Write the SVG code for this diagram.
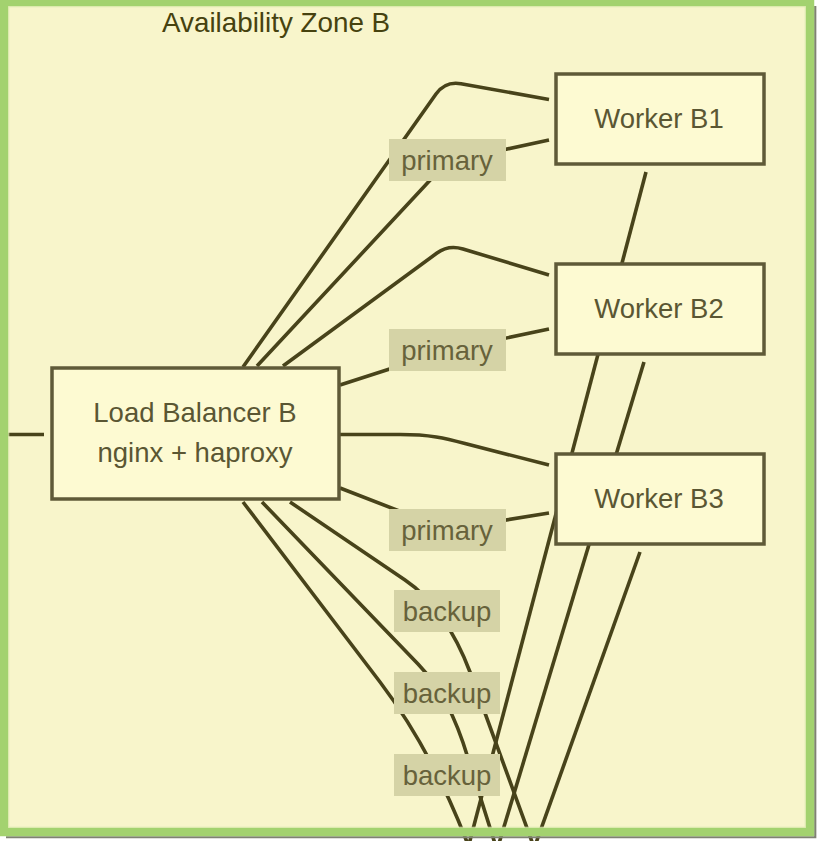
<svg xmlns="http://www.w3.org/2000/svg" width="818" height="841" viewBox="0 0 818 841">
<style>
  .edge{fill:none;stroke:#48431a;stroke-width:3.6;stroke-linejoin:round;stroke-linecap:butt}
  .node rect{fill:#fdfad2;stroke:#5f5a38;stroke-width:3.5}
  .node text{font-family:"Liberation Sans",Arial,sans-serif;font-size:27.5px;fill:#5a5633;text-anchor:middle}
  .lbl rect{fill:#d5d3a6}
  .lbl text{font-family:"Liberation Sans",Arial,sans-serif;font-size:27.5px;fill:#67623b;text-anchor:middle}
  .title{font-family:"Liberation Sans",Arial,sans-serif;font-size:27.8px;fill:#46420f}
</style>
<g id="zone-bg">
  <rect x="4" y="2" width="806" height="830" fill="#f8f5cb"/>
</g>
<g id="connectors">
  <path class="edge" d="M8,434.5 L44,434.5"/>
  <path class="edge" d="M243,367 L436,94 Q445.5,81 461,83.8 L549,99.5"/>
  <path class="edge" d="M257,366 L447,162 L549,140"/>
  <path class="edge" d="M283,366 L437,253 Q448.7,244.5 463,249 L549,275"/>
  <path class="edge" d="M340,385 L447,350.5 L549,329"/>
  <path class="edge" d="M340,434.5 L400,434.5 C430,434.5 445,438 465,443.5 L549,465"/>
  <path class="edge" d="M340,488 L447,529.5 L549,513"/>
  <path class="edge" d="M243,502 L380,682 C405,715 440,770 470,850"/>
  <path class="edge" d="M262,502 L418,664 C440,687 455,715 468,758 L497,850"/>
  <path class="edge" d="M290,502 L405,580 C432,598 455,632 470,672 L535,850"/>
  <path class="edge" d="M646,172 L467.5,850"/>
  <path class="edge" d="M644,362 L497,850"/>
  <path class="edge" d="M640,552 L533.5,850"/>
</g>
<g id="edge-labels">
  <g class="lbl" id="lbl-primary-b1"><rect x="389" y="139" width="117" height="42"/><text x="447" y="170">primary</text></g>
  <g class="lbl" id="lbl-primary-b2"><rect x="389" y="329" width="117" height="42"/><text x="447" y="360">primary</text></g>
  <g class="lbl" id="lbl-primary-b3"><rect x="389" y="509" width="117" height="42"/><text x="447" y="540">primary</text></g>
  <g class="lbl" id="lbl-backup-1"><rect x="394" y="590" width="106" height="42"/><text x="447" y="621">backup</text></g>
  <g class="lbl" id="lbl-backup-2"><rect x="394" y="672" width="106" height="42"/><text x="447" y="703">backup</text></g>
  <g class="lbl" id="lbl-backup-3"><rect x="394" y="754" width="106" height="42"/><text x="447" y="785">backup</text></g>
</g>
<g class="node" id="lb-b">
  <rect x="52" y="368" width="287" height="131"/>
  <text x="195" y="421.5">Load Balancer B</text>
  <text x="195" y="461.5">nginx + haproxy</text>
</g>
<g class="node" id="worker-b1">
  <rect x="556" y="74" width="208" height="90"/>
  <text x="659" y="128">Worker B1</text>
</g>
<g class="node" id="worker-b2">
  <rect x="556" y="264" width="208" height="90"/>
  <text x="659" y="318">Worker B2</text>
</g>
<g class="node" id="worker-b3">
  <rect x="556" y="454" width="208" height="90"/>
  <text x="659" y="508">Worker B3</text>
</g>
<g id="zone-frame">
  <path d="M815.25,6 L815.25,837.25 L6,837.25" fill="none" stroke="#7f8272" stroke-width="2.2"/>
  <rect x="4" y="2" width="806" height="830" fill="none" stroke="#a3d26f" stroke-width="8.5"/>
  <rect x="8.75" y="6.75" width="796.5" height="820.5" fill="none" stroke="#dbe9ad" stroke-width="1"/>
  <text class="title" x="162" y="32">Availability Zone B</text>
</g>
</svg>
